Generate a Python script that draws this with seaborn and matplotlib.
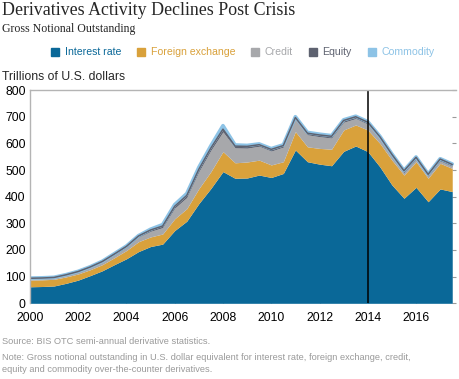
import numpy as np
import pandas as pd
import seaborn as sns
import matplotlib
matplotlib.use('Agg')
import matplotlib.pyplot as plt
from matplotlib.lines import Line2D

# semi-annual observations, Jun 2000 .. Dec 2017 (trillions of USD)
periods = np.arange(2000.0, 2018.0, 0.5)

interest_rate = [62, 63, 65, 75, 87, 104, 122, 145, 167, 194, 213, 222,
                 273, 308, 374, 431, 494, 469, 470, 481, 472, 487, 575, 531,
                 522, 516, 570, 590, 569, 512, 444, 394, 435, 381, 429, 419]
foreign_exchange = [25, 25, 25, 24, 23, 22, 23, 26, 31, 37, 36, 38,
                    44, 47, 56, 63, 75, 58, 60, 56, 47, 44, 69, 56,
                    59, 62, 80, 79, 81, 88, 93, 87, 96, 88, 96, 87]
credit = [5, 5, 5, 6, 7, 8, 9, 10, 11, 17, 21, 24,
          40, 42, 64, 80, 74, 56, 52, 52, 52, 55, 46, 45,
          44, 42, 29, 24, 22, 18, 14, 9, 10, 8, 9, 8]
equity = [2.0, 1.9, 2.0, 2.0, 2.2, 2.3, 2.8, 3.8, 4.5, 4.4, 5.0, 5.8,
          6.8, 7.5, 8.6, 8.5, 10.2, 6.5, 6.6, 5.9, 6.3, 5.6, 6.8, 6.0,
          6.3, 6.3, 6.8, 6.6, 7.1, 6.9, 7.5, 7.1, 6.6, 6.6, 7.0, 6.6]
commodity = [0.6, 0.7, 0.6, 0.6, 0.8, 0.9, 1.0, 1.4, 1.3, 1.4, 2.9, 5.4,
             6.4, 7.1, 7.6, 8.5, 13.2, 4.4, 3.6, 2.9, 2.9, 2.9, 3.2, 3.1,
             3.0, 2.6, 2.5, 2.2, 2.2, 1.9, 1.7, 1.3, 1.4, 1.4, 1.4, 1.9]

series_names = ['Interest rate', 'Foreign exchange', 'Credit', 'Equity', 'Commodity']
colors = ['#0A6898', '#D9A13B', '#A7A8AB', '#5E6270', '#8DC3E6']
year_ticks = list(range(2000, 2017, 2))
y_ticks = list(range(0, 801, 100))

df = pd.DataFrame({'period': periods, 'Interest rate': interest_rate,
                   'Foreign exchange': foreign_exchange, 'Credit': credit,
                   'Equity': equity, 'Commodity': commodity})

sns.set_theme(style='white')
plt.rcParams['font.family'] = ['Liberation Sans', 'DejaVu Sans']

fig = plt.figure(figsize=(4.6, 3.79), dpi=100)
ax = fig.add_axes([0.065, 0.1997, 0.926, 0.5628])

ax.stackplot(df['period'], [df[n] for n in series_names], colors=colors, linewidth=0)

# outline lines on top of the stack (equity edge and commodity edge)
df['to_equity'] = df[series_names[:4]].sum(axis=1)
df['total'] = df[series_names].sum(axis=1)
sns.lineplot(data=df, x='period', y='total', color=colors[4], linewidth=2.6, ax=ax)
sns.lineplot(data=df, x='period', y='to_equity', color=colors[3], linewidth=1.1, ax=ax)

ax.axvline(2014, color='black', linewidth=1.1)

ax.set_xlim(2000, 2017.65)
ax.set_ylim(0, 800)
ax.set_xticks(year_ticks)
ax.set_yticks(y_ticks)
ax.set_xlabel('')
ax.set_ylabel('')
ax.tick_params(axis='both', labelsize=8.8, colors='#9a9a9a', labelcolor='black',
               direction='in', length=3, width=0.8)
ax.tick_params(axis='y', right=True, left=False, pad=3)
ax.tick_params(axis='x', bottom=True, pad=6)
for side in ['bottom', 'right']:
    ax.spines[side].set_visible(False)
for side in ['left', 'top']:
    ax.spines[side].set_color('#b4b4b4')
    ax.spines[side].set_linewidth(1.0)

handles = [Line2D([0], [0], marker='s', linestyle='', markersize=5.5,
                  markerfacecolor=c, markeredgecolor=c) for c in colors]
leg = fig.legend(handles, series_names, loc='center', bbox_to_anchor=(0.528, 0.862),
                 ncol=5, frameon=False, fontsize=7.6, handlelength=0.8,
                 handletextpad=0.5, columnspacing=1.5)
for txt, c in zip(leg.get_texts(), colors):
    txt.set_color(c)

fig.text(0.004, 0.995, 'Derivatives Activity Declines Post Crisis', ha='left', va='top',
         fontsize=12.9, family=['Liberation Serif', 'DejaVu Serif'])
fig.text(0.004, 0.940, 'Gross Notional Outstanding', ha='left', va='top',
         fontsize=8.6, family=['Liberation Serif', 'DejaVu Serif'])
fig.text(0.004, 0.798, 'Trillions of U.S. dollars', ha='left', va='center', fontsize=8.8)

fig.text(0.004, 0.100, 'Source: BIS OTC semi-annual derivative statistics.',
         ha='left', va='center', fontsize=6.7, color='#9a9a9a')
fig.text(0.004, 0.058, 'Note: Gross notional outstanding in U.S. dollar equivalent for interest rate, '
         'foreign exchange, credit,', ha='left', va='center', fontsize=6.7, color='#9a9a9a')
fig.text(0.004, 0.026, 'equity and commodity over-the-counter derivatives.',
         ha='left', va='center', fontsize=6.7, color='#9a9a9a')

fig.savefig('out.png', dpi=100)
